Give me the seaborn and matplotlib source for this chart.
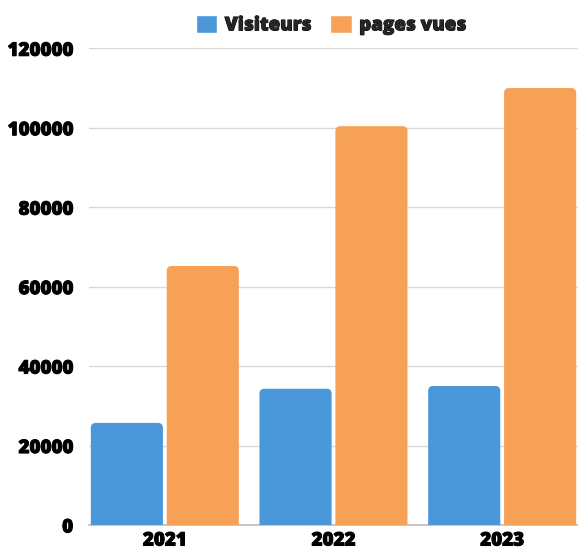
import matplotlib
matplotlib.use("Agg")
import matplotlib.pyplot as plt
import matplotlib.patheffects as pe
from matplotlib.patches import FancyBboxPatch
import seaborn as sns
import pandas as pd

years = ["2021", "2022", "2023"]
visiteurs = [25700, 34300, 35000]
pages_vues = [65200, 100400, 110000]
series_names = ["Visiteurs", "pages vues"]
colors = ["#4A98D9", "#F7A157"]
yticks = [0, 20000, 40000, 60000, 80000, 100000, 120000]

df = pd.DataFrame({
    "annee": years * 2,
    "valeur": visiteurs + pages_vues,
    "serie": [series_names[0]] * 3 + [series_names[1]] * 3,
})

sns.set_theme(style="white")
plt.rcParams["font.family"] = ["Open Sans", "DejaVu Sans"]

fig = plt.figure(figsize=(5.78, 5.49), dpi=100)
ax = fig.add_axes([89 / 578, 24 / 549, 489 / 578, (525 - 48.3) / 549])

sns.barplot(data=df, x="annee", y="valeur", hue="serie", palette=colors,
            width=0.9, gap=0.05, ax=ax, saturation=1, legend=True)

ax.set_ylim(0, 120000)
ax.set_xlim(-0.4495, 2.4495)

# rounded top corners
px_x = (ax.get_xlim()[1] - ax.get_xlim()[0]) / 489
px_y = 120000 / (525 - 48.3)
aspect = px_y / px_x
bars = [p for p in ax.patches]
for p in bars:
    x, y = p.get_x(), p.get_y()
    w, h = p.get_width(), p.get_height()
    if h <= 0:
        continue
    fc = p.get_facecolor()
    p.set_visible(False)
    ext = 3000
    fb = FancyBboxPatch((x, y - ext), w, h + ext,
                        boxstyle="round,pad=0,rounding_size=%f" % (5 * px_x),
                        mutation_aspect=aspect, facecolor=fc, edgecolor="none",
                        zorder=2)
    ax.add_patch(fb)

ax.set_yticks(yticks)
ax.set_yticklabels([str(v) for v in yticks])
ax.grid(axis="y", color="#d9d9d9", linewidth=1.0, zorder=0)
ax.set_axisbelow(True)
for s in ["top", "right", "left"]:
    ax.spines[s].set_visible(False)
ax.spines["bottom"].set_color("#bdbdbd")
ax.spines["bottom"].set_linewidth(1.2)
ax.spines["bottom"].set_zorder(1)

stroke = [pe.withStroke(linewidth=0.7, foreground="black")]
ax.tick_params(axis="both", length=0)
ax.tick_params(axis="y", pad=11.5)
ax.tick_params(axis="x", pad=4)
for lab in ax.get_yticklabels() + ax.get_xticklabels():
    lab.set_fontsize(13.5)
    lab.set_fontweight("heavy")
    lab.set_color("#000000")
    lab.set_path_effects(stroke)
ax.set_xlabel("")
ax.set_ylabel("")

handles, labels = ax.get_legend_handles_labels()
ax.get_legend().remove()
leg = fig.legend(handles, labels, loc="center", ncol=2,
                 bbox_to_anchor=(331 / 578, 1 - 25 / 549),
                 bbox_transform=fig.transFigure, frameon=False,
                 handlelength=1.15, handleheight=1.15, handletextpad=0.4,
                 columnspacing=1.0, prop={"size": 13.5, "weight": "heavy"})
for t in leg.get_texts():
    t.set_path_effects(stroke)

fig.savefig("out.png", dpi=100)
